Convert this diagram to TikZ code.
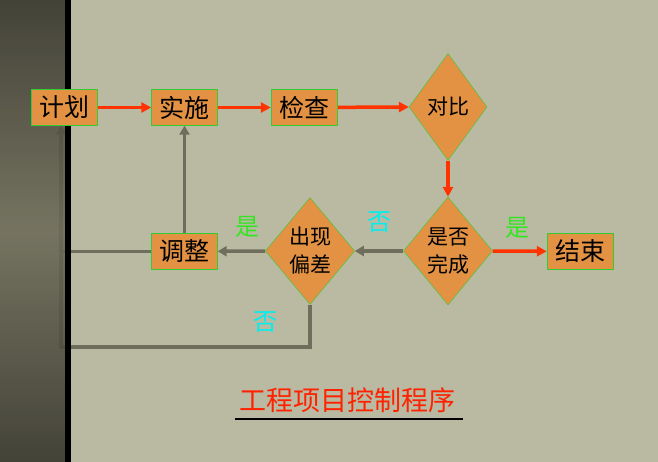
\documentclass[tikz,border=0pt]{standalone}
\usepackage{fontspec}
\usepackage{tikz}
\usetikzlibrary{shapes.geometric,arrows.meta}
\newfontfamily\cjk{Noto Sans CJK SC}
\definecolor{paper}{RGB}{186,185,162}
\definecolor{stripmid}{RGB}{108,106,88}
\definecolor{stripend}{RGB}{52,51,42}
\definecolor{boxfill}{RGB}{227,146,68}
\definecolor{boxline}{RGB}{51,204,51}
\definecolor{arrowred}{RGB}{255,51,0}
\definecolor{loopgray}{RGB}{110,110,92}
\definecolor{yesgreen}{RGB}{51,230,34}
\definecolor{nocyan}{RGB}{0,240,240}
\definecolor{titlered}{RGB}{255,34,0}
\pgfdeclarelayer{back}
\pgfdeclarelayer{strip}
\pgfsetlayers{back,strip,main}

\begin{document}
\begin{tikzpicture}[x=1pt,y=-1pt,
    stepbox/.style={draw=boxline,fill=boxfill,minimum width=66pt,minimum height=36pt,inner sep=0pt,font=\cjk\fontsize{25}{26}\selectfont},
    check/.style={diamond,draw=boxline,fill=boxfill,inner sep=0pt,align=center,font=\cjk\fontsize{21}{28}\selectfont},
    go/.style={draw=arrowred,line width=3.5pt,-{Triangle[length=10pt,width=10pt]}},
    loop/.style={draw=loopgray,line width=3.5pt,-{Triangle[length=9pt,width=10pt]}},
    yes/.style={text=yesgreen,font=\cjk\fontsize{24}{24}\selectfont},
    no/.style={text=nocyan,font=\cjk\fontsize{24}{24}\selectfont}]
    \useasboundingbox (0,0) rectangle (658,462);
    \begin{pgfonlayer}{back}
      \fill[paper] (0,0) rectangle (658,462);
    \end{pgfonlayer}
    \begin{pgfonlayer}{strip}
      \shade[top color=stripend,bottom color=stripend,middle color=stripmid,opacity=.88] (0,0) rectangle (65,462);
      \fill[black] (65,0) rectangle (71,462);
    \end{pgfonlayer}
    % boxes and checks
    \node[stepbox] (plan) at (64.5,107.5) {计划};
    \node[stepbox] (act) at (184.5,107.5) {实施};
    \node[stepbox] (test) at (304,107.5) {检查};
    \node[check,minimum width=78pt,minimum height=107pt] (cmp) at (448,107) {对比};
    \node[check,minimum width=89pt,minimum height=108pt] (done) at (448,251) {是否\\完成};
    \node[stepbox] (stop) at (580,251.3) {结束};
    \node[check,minimum width=89pt,minimum height=107pt] (dev) at (310,251) {出现\\偏差};
    \node[stepbox] (fix) at (184.5,251.3) {调整};
    \coordinate (corner) at (61,347);
    % labels
    \node[yes] (y1) at (517,228) {是};
    \node[no] (n1) at (379,222) {否};
    \node[yes] (y2) at (247,227) {是};
    \node[no] (n2) at (265,322) {否};
    \node[text=titlered,font=\cjk\fontsize{27}{27}\selectfont] (title) at (347,400) {工程项目控制程序};
    \draw[line width=2pt] (235,418.5) -- (463,418.5);
    \begin{pgfonlayer}{back}
      \draw[go] (plan) -- (act);
      \draw[go] (act) -- (test);
      \draw[go] (test) -- (cmp.west);
      \draw[go] (cmp.south) -- (done.north);
      \draw[go] (done.east) -- (stop.west);
      \draw[loop] (done.west) -- (dev.east);
      \draw[loop] (dev.west) -- (fix.east);
      \draw[loop] (fix.north) -- (act.south);
      \draw[loop,-] (fix.west) -- (fix.west -| corner);
      \draw[loop] (dev.south) |- (corner) -- (corner |- plan.south);
    \end{pgfonlayer}
\end{tikzpicture}
\end{document}
